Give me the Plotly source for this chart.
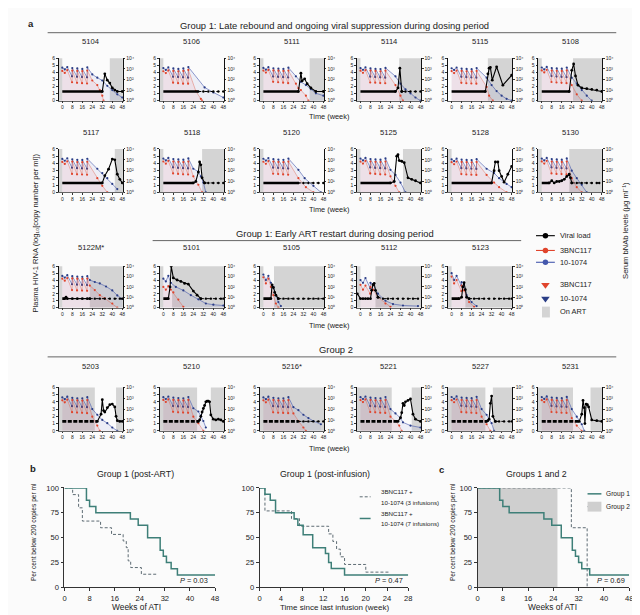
import plotly.graph_objects as go

W, H = 640, 615
FONT = "Liberation Sans, Arial, Helvetica, sans-serif"
TXT = "#222222"
BG = "#fbfbfb"
RED = "#e0442c"
RED_LINE = "rgba(224,68,44,0.7)"
BLUE = "#4458ad"
NAVY = "#2a3d86"
RED_FILL = "rgba(235,120,115,0.11)"
BLUE_FILL = "rgba(120,125,210,0.10)"
ART_GRAY = "#d4d4d4"
TEAL = "#3e7f78"
DASH_COL = "#5d6b73"

# ======================= panel a data =======================
PANEL_IDS = ["5104", "5106", "5111", "5114", "5115", "5108",
             "5117", "5118", "5120", "5125", "5128", "5130",
             "5122M*", "5101", "5105", "5112", "5123",
             "5203", "5210", "5216*", "5221", "5227", "5231"]

INF7 = [0, 2, 4, 8, 12, 16, 20]
INF3 = [0, 2, 4]
INF4 = [0, 2, 4, 8]
PANEL_INFUSIONS = [INF7, INF7, INF7, INF7, INF7, INF7,
                   INF7, INF7, INF7, INF7, INF7, INF7,
                   INF7, INF3, INF3, INF4, INF4,
                   INF7, INF7, INF7, INF7, INF7, INF7]

PANEL_ART = [
    [[-3, 0], [38, 48.5]], [[-3, 0]], [[-3, 0], [37, 48.5]], [[-3, 0], [31, 48.5]], [[29, 48.5]], [[-3, 0], [25, 48.5]],
    [[-3, 0], [42, 48.5]], [[-3, 0], [31, 48.5]], [[-3, 0]], [[-3, 0], [34, 48.5]], [[-3, 0]], [[-3, 0], [22, 48.5]],
    [[-3, 0], [22, 48.5]], [[-3, 0], [7, 48.5]], [[-3, 0], [8.5, 48.5]], [[-3, 0], [12, 48.5]], [[-3, 0], [11, 48.5]],
    [[-3, 26], [43, 48.5]], [[-3, 27], [38, 48.5]], [[-3, 48.5]], [[-3, 25], [41, 48.5]], [[-3, 27], [33, 48.5]], [[-3, 25], [39, 48.5]],
]

VL_WEEKS = [
    [0, 4, 8, 12, 16, 20, 24, 28, 32, 34, 36, 38, 40, 42, 44, 48],
    [0, 4, 8, 12, 16, 20, 24, 28, 32, 36, 40, 44, 48],
    [0, 4, 8, 12, 16, 20, 24, 28, 30, 31, 33, 35, 38, 42, 48],
    [0, 4, 8, 12, 16, 20, 24, 28, 30, 31.5, 33, 36, 40, 44, 48],
    [0, 4, 8, 12, 16, 20, 24, 27, 29, 30, 31, 32.5, 36, 41, 48],
    [0, 4, 8, 12, 16, 20, 22, 24, 25.5, 27, 29, 32, 36, 40, 44, 48],
    [0, 4, 8, 12, 16, 20, 24, 28, 32, 34, 37, 40, 42, 44, 46, 48],
    [0, 4, 8, 12, 16, 20, 24, 26, 28, 29, 30, 31, 33, 36, 40, 44, 48],
    [0, 4, 8, 12, 16, 20, 24, 28, 32, 36, 40, 44, 48],
    [0, 4, 8, 12, 16, 20, 24, 27, 29, 30, 31, 33, 35, 38, 41, 44, 48],
    [0, 4, 8, 12, 16, 20, 24, 28, 32, 34, 35, 37, 38, 40, 42, 45, 48],
    [0, 2, 4, 6, 8, 10, 12, 14, 16, 18, 20, 22, 23, 24, 28, 32, 36, 40, 44, 46],
    [0, 2, 3, 4, 8, 12, 16, 20, 22, 26, 30, 34, 38, 42, 46, 48],
    [0, 2, 4, 5.4, 6.3, 8, 11, 14, 17, 20, 24, 27, 30, 34, 38, 42, 46, 48],
    [0, 2, 4, 6, 7, 8, 9, 10, 12, 16, 20, 24, 28, 32, 36, 40, 44, 48],
    [-2.5, 0, 2, 4, 6, 8, 9, 10, 11, 12, 14, 18, 22, 26, 30, 34, 38, 42, 46],
    [0, 2, 4, 6, 8, 9, 10, 11, 12, 14, 18, 22, 26, 30, 34, 38, 42, 46, 48],
    [0, 4, 8, 12, 16, 20, 24, 28, 31, 32, 33, 34, 36, 38, 40, 42, 43, 44, 46, 48],
    [0, 4, 8, 12, 16, 20, 24, 28, 29, 30, 31, 32, 33, 34, 35, 36, 37, 38, 40, 42, 44, 46, 48],
    [0, 4, 8, 12, 16, 20, 24, 28, 32, 36, 40, 44, 48],
    [0, 4, 8, 12, 16, 20, 24, 28, 30, 32, 33, 34, 35, 36, 38, 40, 42, 44, 48],
    [0, 4, 8, 12, 16, 20, 24, 28, 29, 30, 31, 32, 33, 35, 38, 42, 46, 48],
    [0, 4, 8, 12, 16, 20, 24, 28, 30, 32, 33, 34, 34.5, 35.5, 36.5, 37.5, 40, 44, 48],
]
VL_LOG = [
    [1.3, 1.3, 1.3, 1.3, 1.3, 1.3, 1.3, 1.3, 1.3, 3.8, 2.9, 2.5, 1.8, 1.5, 1.3, 1.3],
    [1.3, 1.3, 1.3, 1.3, 1.3, 1.3, 1.3, 1.3, 1.3, 1.3, 1.3, 1.3, 1.3],
    [1.3, 1.3, 1.3, 1.3, 1.3, 1.3, 1.3, 1.3, 3.9, 2.8, 3.1, 2.4, 1.8, 1.3, 1.3],
    [1.3, 1.3, 1.3, 1.3, 1.3, 1.3, 1.3, 1.3, 1.8, 4.6, 1.3, 1.3, 1.3, 1.3, 1.3],
    [1.3, 1.3, 1.3, 1.3, 1.3, 1.3, 1.3, 1.3, 3.8, 4.6, 4.7, 2.9, 4.8, 2.2, 3.6],
    [1.3, 1.3, 1.3, 1.3, 1.3, 1.3, 1.3, 4.3, 5.2, 3.5, 2.2, 1.8, 1.7, 1.6, 1.5, 1.3],
    [1.3, 1.3, 1.3, 1.3, 1.3, 1.3, 1.3, 1.3, 1.3, 2.3, 3.2, 4.6, 4.5, 2.5, 1.8, 1.3],
    [1.3, 1.3, 1.3, 1.3, 1.3, 1.3, 1.3, 1.5, 2.8, 4.2, 3.8, 2.0, 1.3, 1.3, 1.3, 1.3, 1.3],
    [1.3, 1.3, 1.3, 1.3, 1.3, 1.3, 1.3, 1.3, 1.3, 1.3, 1.3, 1.3, 1.3],
    [1.3, 1.3, 1.3, 1.3, 1.3, 1.3, 1.3, 1.5, 5.0, 5.2, 4.4, 4.3, 4.1, 2.0, 1.8, 1.6, 1.3],
    [1.3, 1.3, 1.3, 1.3, 1.3, 1.3, 1.3, 1.3, 1.3, 3.0, 4.2, 4.2, 3.0, 2.2, 1.4, 2.5, 3.6],
    [1.3, 1.3, 1.3, 1.3, 1.6, 1.3, 1.5, 1.5, 1.6, 1.8, 2.2, 2.5, 2.0, 1.3, 1.3, 1.3, 1.3, 1.3, 1.3, 1.3],
    [1.3, 1.3, 1.5, 1.3, 1.3, 1.3, 1.3, 1.3, 1.3, 1.3, 1.3, 1.3, 1.3, 1.3, 1.3, 1.3],
    [1.3, 1.3, 1.3, 3.0, 6.0, 4.3, 4.0, 3.8, 3.5, 3.4, 2.4, 1.8, 1.3, 1.3, 1.3, 1.3, 1.3, 1.3],
    [1.3, 1.3, 1.3, 1.3, 3.3, 2.9, 2.2, 1.8, 1.3, 1.3, 1.3, 1.3, 1.3, 1.3, 1.3, 1.3, 1.3, 1.3],
    [2.0, 1.3, 1.3, 1.3, 1.3, 1.3, 2.5, 3.3, 3.5, 2.5, 1.5, 1.3, 1.3, 1.3, 1.3, 1.3, 1.3, 1.3, 1.3],
    [1.3, 1.3, 1.3, 1.3, 1.5, 3.0, 3.6, 2.6, 1.5, 1.3, 1.3, 1.3, 1.3, 1.3, 1.3, 1.3, 1.3, 1.3, 1.3],
    [1.3, 1.3, 1.3, 1.3, 1.3, 1.3, 1.3, 1.3, 2.3, 4.3, 2.8, 2.6, 3.2, 3.6, 3.7, 3.3, 2.0, 1.4, 1.3, 1.3],
    [1.3, 1.3, 1.3, 1.3, 1.3, 1.3, 1.3, 1.3, 1.5, 2.0, 2.6, 3.1, 3.5, 4.0, 4.1, 4.1, 4.0, 2.2, 1.6, 1.5, 1.6, 1.5, 1.3],
    [1.3, 1.3, 1.3, 1.3, 1.3, 1.3, 1.3, 1.3, 1.3, 1.3, 1.3, 1.3, 1.3],
    [1.3, 1.3, 1.3, 1.3, 1.3, 1.3, 1.3, 1.3, 1.3, 1.8, 2.5, 3.8, 3.5, 4.0, 4.2, 4.4, 2.3, 1.6, 1.3],
    [1.3, 1.3, 1.3, 1.3, 1.3, 1.3, 1.3, 1.3, 1.4, 1.6, 3.8, 4.8, 2.0, 1.3, 1.3, 1.3, 1.3, 1.3],
    [1.3, 1.3, 1.3, 1.3, 1.3, 1.3, 1.3, 1.3, 1.3, 2.3, 4.2, 3.2, 1.0, 3.7, 3.6, 3.3, 1.5, 1.4, 1.3],
]
VL_DASH_FROM = [100, 28, 100, 33, 100, 100,
                100, 33, 28, 100, 100, 24,
                22, 30, 12, 14, 14,
                100, 100, 28, 100, 35, 100]

DOSE7_WEEKS = [0, 2, 4, 7.8, 8, 11.8, 12, 15.8, 16, 19.8, 20]

R_WEEKS = [
    DOSE7_WEEKS + [24, 28, 30, 32, 33], DOSE7_WEEKS + [26, 30, 31], DOSE7_WEEKS + [26, 28, 30, 34, 36],
    DOSE7_WEEKS + [28, 32, 34], DOSE7_WEEKS + [28, 30, 33], DOSE7_WEEKS + [24, 28, 32],
    DOSE7_WEEKS + [28, 32, 36], DOSE7_WEEKS + [24, 28, 31], DOSE7_WEEKS + [28, 34, 40],
    DOSE7_WEEKS + [24, 28, 31], DOSE7_WEEKS + [28, 34, 38, 44], DOSE7_WEEKS + [24, 28, 32],
    DOSE7_WEEKS + [22, 26, 30, 34, 40, 44],
    [0, 2, 4, 6, 8, 12, 16],
    [0, 2, 4, 6, 8, 10, 12],
    [0, 2, 4, 7.8, 8, 10, 14, 20, 24],
    [0, 2, 4, 7.8, 8, 10, 14, 18],
    DOSE7_WEEKS + [24, 28, 30], DOSE7_WEEKS + [24, 28, 32], DOSE7_WEEKS + [24, 28, 32, 34],
    DOSE7_WEEKS + [24, 28, 31, 33], DOSE7_WEEKS + [24, 28, 31], DOSE7_WEEKS + [24, 28, 32],
]
R_UG = [
    [650, 420, 780, 55, 700, 48, 650, 45, 620, 42, 700, 80, 30, 10, 3, 1],
    [600, 400, 720, 50, 650, 45, 600, 40, 650, 40, 800, 8, 1.5, 1],
    [700, 450, 800, 60, 720, 55, 680, 50, 650, 45, 700, 40, 15, 10, 3, 1],
    [680, 430, 760, 52, 690, 50, 640, 46, 600, 44, 680, 30, 3, 1],
    [620, 400, 700, 48, 650, 44, 600, 42, 580, 40, 650, 20, 3, 1],
    [720, 460, 820, 58, 700, 52, 660, 48, 640, 45, 720, 30, 4, 1],
    [640, 420, 740, 50, 680, 46, 630, 44, 600, 42, 660, 20, 4, 1],
    [700, 440, 800, 56, 700, 50, 650, 46, 620, 44, 700, 30, 5, 1],
    [660, 430, 760, 52, 680, 48, 640, 45, 610, 42, 680, 20, 3, 1],
    [690, 450, 790, 55, 700, 50, 650, 46, 630, 44, 700, 30, 4, 1],
    [600, 390, 700, 48, 640, 44, 600, 42, 580, 40, 640, 40, 8, 3, 1],
    [710, 450, 800, 56, 700, 50, 660, 48, 640, 45, 700, 20, 3, 1],
    [620, 400, 720, 50, 660, 46, 620, 44, 600, 42, 640, 135, 50, 16, 8, 2.5, 1],
    [100, 54, 117, 55, 29, 6, 1.2],
    [860, 215, 630, 100, 16, 2.5, 1],
    [160, 54, 135, 22, 100, 54, 10, 2.5, 1.2],
    [1000, 215, 460, 40, 135, 46, 3.4, 1.2],
    [650, 420, 760, 52, 690, 48, 640, 45, 610, 42, 680, 20, 3, 1],
    [700, 450, 800, 56, 700, 50, 660, 48, 630, 45, 700, 20, 5, 1],
    [640, 420, 740, 50, 680, 46, 630, 44, 600, 42, 660, 40, 8, 2, 1],
    [680, 440, 780, 54, 690, 50, 650, 46, 620, 44, 690, 20, 8, 3, 1],
    [660, 430, 770, 53, 690, 49, 650, 46, 620, 43, 680, 20, 4, 1],
    [670, 440, 780, 54, 700, 50, 650, 46, 620, 44, 690, 15, 3, 1],
]

B_WEEKS = [
    DOSE7_WEEKS + [24, 28, 32, 36, 40, 44, 48], DOSE7_WEEKS + [33, 40, 48], DOSE7_WEEKS + [26, 30, 34, 38, 42, 48],
    DOSE7_WEEKS + [28, 32, 36, 40, 44, 48], DOSE7_WEEKS + [28, 32, 36, 40, 44, 48], DOSE7_WEEKS + [24, 28, 32, 36, 40],
    DOSE7_WEEKS + [28, 32, 36, 40, 44], DOSE7_WEEKS + [24, 28, 30, 32, 34], DOSE7_WEEKS + [28, 33, 40, 46],
    DOSE7_WEEKS + [24, 28, 32, 36], DOSE7_WEEKS + [28, 34, 38, 44, 48], DOSE7_WEEKS + [24, 28, 32, 36],
    DOSE7_WEEKS + [22, 26, 30, 35, 40, 44, 48],
    [0, 2, 4, 6, 10, 16, 22, 28, 34, 40, 48],
    [0, 2, 4, 6, 8, 10, 12, 14],
    [0, 2, 4, 7.8, 8, 10, 14, 20, 26, 34, 46],
    [0, 2, 4, 7.8, 8, 10, 12, 16, 20],
    DOSE7_WEEKS + [24, 28, 32, 36, 40, 44], DOSE7_WEEKS + [24, 28, 30, 32, 34], DOSE7_WEEKS + [24, 28, 32, 36, 40, 46],
    DOSE7_WEEKS + [24, 28, 32, 34, 40, 48], DOSE7_WEEKS + [24, 28, 32, 34], DOSE7_WEEKS + [24, 28, 32, 34],
]
B_UG = [
    [1300, 900, 1500, 200, 1200, 180, 1100, 170, 1000, 160, 1400, 300, 150, 80, 25, 10, 4, 2],
    [1200, 800, 1400, 180, 1100, 170, 1000, 160, 1100, 150, 1500, 18, 6, 2],
    [1250, 850, 1450, 190, 1150, 175, 1050, 165, 1000, 155, 1300, 200, 60, 30, 12, 5, 3],
    [1200, 820, 1400, 185, 1100, 170, 1000, 160, 980, 150, 1250, 200, 40, 12, 5, 2, 1],
    [1150, 800, 1350, 180, 1080, 165, 1000, 155, 950, 150, 1200, 150, 30, 8, 3, 1.5, 1],
    [1350, 900, 1550, 210, 1200, 190, 1100, 175, 1050, 165, 1350, 150, 40, 10, 3, 1],
    [1200, 820, 1400, 185, 1100, 170, 1000, 160, 980, 150, 1250, 150, 60, 20, 6, 2],
    [1300, 880, 1500, 200, 1180, 180, 1080, 170, 1020, 160, 1350, 150, 80, 30, 8, 1],
    [1250, 850, 1450, 190, 1150, 175, 1050, 165, 1000, 155, 1300, 120, 20, 4, 1],
    [1300, 880, 1500, 200, 1180, 180, 1080, 170, 1020, 160, 1350, 120, 40, 8, 1],
    [1100, 750, 1300, 170, 1050, 160, 980, 150, 950, 145, 1150, 150, 60, 20, 6, 3],
    [1300, 880, 1500, 200, 1180, 180, 1080, 170, 1020, 160, 1350, 100, 20, 5, 1],
    [1150, 800, 1350, 180, 1080, 165, 1000, 155, 950, 150, 1100, 460, 300, 215, 110, 46, 15, 7],
    [630, 340, 1170, 250, 100, 46, 16, 6.3, 2.5, 1.9, 1.6],
    [1580, 460, 1170, 250, 100, 16, 3.4, 1.4],
    [460, 250, 730, 73, 250, 185, 22, 4.6, 2.2, 1.6, 1.4],
    [2150, 460, 1170, 135, 290, 185, 16, 3.4, 1.4],
    [1200, 820, 1400, 185, 1100, 170, 1000, 160, 980, 150, 1250, 100, 30, 10, 5, 2, 1],
    [1250, 850, 1450, 190, 1150, 175, 1050, 165, 1000, 155, 1300, 120, 60, 25, 8, 2],
    [1200, 820, 1400, 185, 1100, 170, 1000, 160, 980, 150, 1250, 150, 80, 30, 15, 8, 4],
    [1250, 850, 1450, 190, 1150, 175, 1050, 165, 1000, 155, 1300, 100, 40, 15, 6, 3, 2],
    [1300, 880, 1500, 200, 1180, 180, 1080, 170, 1020, 160, 1350, 100, 30, 5, 1],
    [1280, 870, 1480, 195, 1170, 178, 1070, 168, 1010, 158, 1330, 100, 20, 4, 1],
]

X_TICKS_A = [0, 8, 16, 24, 32, 40, 48]
VL_TICKS = [0, 1, 2, 3, 4, 5, 6]
AB_TICKS = [1, 10, 100, 1000, 10000]
AB_TICKTEXT = ["10⁰", "10¹", "10²", "10³", "10⁴"]

# ======================= panel b / c data =======================
KM_B1_7INF_WEEKS = [0, 7, 8, 10, 21, 23.5, 26.5, 30.5, 31.5, 32.5, 34, 36, 48]
KM_B1_7INF_PCT = [100, 87.5, 81.25, 75, 68.75, 62.5, 50, 37.5, 31.25, 25, 18.75, 12.5, 12.5]
KM_B1_3INF_WEEKS = [0, 2.6, 4.5, 5.7, 11.5, 15, 18.7, 19.7, 20.3, 21.1, 24.5, 29.3]
KM_B1_3INF_PCT = [100, 93.3, 80, 66.7, 60, 53.3, 46.7, 40, 26.7, 20, 13.3, 13.3]

KM_B2_7INF_WEEKS = [0, 1, 2, 3, 6.5, 7.2, 8.2, 10, 12.4, 13, 13.5, 16, 28]
KM_B2_7INF_PCT = [100, 93.75, 87.5, 75, 68.75, 62.5, 53, 40, 34, 25, 19, 12.5, 12.5]
KM_B2_3INF_WEEKS = [0, 1, 6, 7.5, 13, 13.8, 14.5, 15.2, 16, 20, 24.3]
KM_B2_3INF_PCT = [100, 76.9, 69.2, 61.5, 53.8, 46.2, 38.5, 30.8, 23.1, 15.4, 15.4]

KM_C_G1_WEEKS = [0, 7, 8, 10, 21, 23.5, 26.5, 30, 31, 32, 33, 35.5, 48]
KM_C_G1_PCT = [100, 87.5, 81.25, 75, 68.75, 62.5, 50, 37.5, 31.25, 25, 18.75, 12.5, 12.5]
KM_C_G2_WEEKS = [0, 29.7, 34.7]
KM_C_G2_PCT = [100, 60, 0]
C_ART_WEEKS = [0, 25.3]

P_VALUES = ["0.03", "0.47", "0.69"]
X_TICKS_B1 = [0, 8, 16, 24, 32, 40, 48]
X_TICKS_B2 = [0, 4, 8, 12, 16, 20, 24, 28]
Y_TICKS_KM = [0, 25, 50, 75, 100]

# ======================= layout geometry (pixels) =======================
COL_X = [49, 151, 252, 350, 442, 533]
PW = 65
ROW_Y = [(47, 90), (139, 183), (258, 300), (381, 425)]
TITLE_Y = [30, 122, 239, 360]
PANEL_ROW = [0, 0, 0, 0, 0, 0, 1, 1, 1, 1, 1, 1, 2, 2, 2, 2, 2, 3, 3, 3, 3, 3, 3]
PANEL_COL = [0, 1, 2, 3, 4, 5, 0, 1, 2, 3, 4, 5, 0, 1, 2, 3, 4, 0, 1, 2, 3, 4, 5]


def aid(k):
    return "" if k == 1 else str(k)


def xdom(a, b):
    return [a / W, b / W]


def ydom(top, bottom):
    return [1 - bottom / H, 1 - top / H]


fig = go.Figure()
lay = dict(width=W, height=H, margin=dict(l=0, r=0, t=0, b=0),
           paper_bgcolor=BG, plot_bgcolor="rgba(0,0,0,0)",
           showlegend=False, hovermode=False,
           font=dict(family=FONT, color=TXT))
shapes = []
annos = []


def ann(x, y, text, size, weight="normal", **kw):
    d = dict(x=x, y=y, text=text, showarrow=False, xref="x70", yref="y70",
             font=dict(size=size, family=FONT, color=TXT, weight=weight))
    d.update(kw)
    annos.append(d)


small_font = dict(size=5, family=FONT, color="#222")

for i, pid in enumerate(PANEL_IDS):
    k = aid(i + 1)          # base axis: serum bNAb (log, right side)
    kv = str(31 + i)        # overlay axis: viral load (linear, left side) -> drawn on top
    r, c = PANEL_ROW[i], PANEL_COL[i]
    x0 = COL_X[c]
    top, bot = ROW_Y[r]
    lay[f"xaxis{k}"] = dict(domain=xdom(x0, x0 + PW), anchor=f"y{k}", range=[-3, 48.5],
                            tickvals=X_TICKS_A, ticks="outside", ticklen=1.5, tickwidth=0.6,
                            tickcolor="#333", showline=True, linecolor="#666", linewidth=0.6,
                            showgrid=False, zeroline=False, tickfont=small_font, fixedrange=True)
    lay[f"yaxis{k}"] = dict(domain=ydom(top, bot), anchor=f"x{k}", side="right", type="log",
                            range=[0, 4], tickvals=AB_TICKS, ticktext=AB_TICKTEXT,
                            ticks="outside", ticklen=1.5, tickwidth=0.6, tickcolor="#333",
                            showline=True, linecolor="#111", linewidth=0.8, showgrid=False,
                            zeroline=False, tickfont=small_font, fixedrange=True)
    lay[f"yaxis{kv}"] = dict(overlaying=f"y{k}", anchor=f"x{k}", side="left", range=[0, 6],
                             tickvals=VL_TICKS, ticks="outside", ticklen=1.5, tickwidth=0.6,
                             tickcolor="#333", showline=True, linecolor="#111", linewidth=1.0,
                             showgrid=False, zeroline=False, tickfont=small_font, fixedrange=True)
    for a0, a1 in PANEL_ART[i]:
        shapes.append(dict(type="rect", xref=f"x{k}", yref=f"y{k} domain", x0=a0, x1=a1,
                           y0=0, y1=1, fillcolor=ART_GRAY, line_width=0, layer="below"))
    # bNAb levels
    fig.add_trace(go.Scatter(x=B_WEEKS[i], y=B_UG[i], xaxis=f"x{k}", yaxis=f"y{k}",
                             mode="lines+markers", line=dict(color=BLUE, width=0.6),
                             marker=dict(size=2.2, color=NAVY), fill="tozeroy", fillcolor=BLUE_FILL))
    fig.add_trace(go.Scatter(x=R_WEEKS[i], y=R_UG[i], xaxis=f"x{k}", yaxis=f"y{k}",
                             mode="lines+markers", line=dict(color=RED_LINE, width=0.5),
                             marker=dict(size=2.2, color=RED), fill="tozeroy", fillcolor=RED_FILL))
    # viral load: leading run at detection limit drawn thick
    wk, vl = VL_WEEKS[i], VL_LOG[i]
    n_lod = 0
    while n_lod < len(vl) and vl[n_lod] <= 1.3:
        n_lod += 1
    dfrom = VL_DASH_FROM[i]
    lod_dash = "4px,1.5px" if r == 3 else "solid"
    if n_lod > 1:
        lw = [w for w in wk[:n_lod] if w <= dfrom]
        fig.add_trace(go.Scatter(x=lw, y=vl[:len(lw)], xaxis=f"x{k}", yaxis=f"y{kv}",
                                 mode="lines", line=dict(color="black", width=2.6, dash=lod_dash)))
    mid_idx = [j for j in range(max(n_lod - 1, 0), len(wk)) if wk[j] <= dfrom]
    if len(mid_idx) > 1:
        fig.add_trace(go.Scatter(x=[wk[j] for j in mid_idx], y=[vl[j] for j in mid_idx],
                                 xaxis=f"x{k}", yaxis=f"y{kv}", mode="lines+markers",
                                 line=dict(color="black", width=1.1),
                                 marker=dict(size=2.8, color="black")))
    dash_idx = [j for j in range(len(wk)) if wk[j] >= dfrom]
    if len(dash_idx) > 1:
        fig.add_trace(go.Scatter(x=[wk[j] for j in dash_idx], y=[vl[j] for j in dash_idx],
                                 xaxis=f"x{k}", yaxis=f"y{kv}", mode="lines+markers",
                                 line=dict(color="black", width=1.0, dash="dot"),
                                 marker=dict(size=2.4, color="black")))
    # infusion markers above the plot
    inf = PANEL_INFUSIONS[i]
    fig.add_trace(go.Scatter(x=inf, y=[7.25] * len(inf), xaxis=f"x{k}", yaxis=f"y{kv}",
                             mode="markers", cliponaxis=False,
                             marker=dict(symbol="triangle-down", size=3.6, color=NAVY)))
    fig.add_trace(go.Scatter(x=inf, y=[6.75] * len(inf), xaxis=f"x{k}", yaxis=f"y{kv}",
                             mode="markers", cliponaxis=False,
                             marker=dict(symbol="triangle-down", size=3.6, color=RED)))
    ann(x0 + PW / 2, TITLE_Y[r], pid, 7.6)

# row captions and headers
for yy in [106, 200, 318, 443]:
    ann(322, yy, "Time (week)", 7.4)
ann(21, 12, "a", 9.5, weight="bold")
ann(328, 14, "Group 1: Late rebound and ongoing viral suppression during dosing period", 9.4)
ann(328, 225, "Group 1: Early ART restart during dosing period", 9.4)
ann(329, 343, "Group 2", 9.4)
for (xa, xb, yy) in [(38, 612, 21), (144, 516, 232), (38, 612, 350)]:
    shapes.append(dict(type="line", xref="x70", yref="y70", x0=xa, x1=xb, y0=yy, y1=yy,
                       line=dict(color="#555", width=0.9)))
ann(26, 224, "Plasma HIV-1 RNA (log₁₀[copy number per ml])", 7.6, textangle=-90)
ann(622, 222, "Serum bNAb levels (μg ml⁻¹)", 7.6, textangle=-90)

# panel a legend
for yy, col in [(227, "black"), (242, RED), (254, BLUE)]:
    fig.add_trace(go.Scatter(x=[531, 550], y=[yy, yy], xaxis="x70", yaxis="y70", mode="lines",
                             line=dict(color=col, width=1.1)))
    fig.add_trace(go.Scatter(x=[540.5], y=[yy], xaxis="x70", yaxis="y70", mode="markers",
                             marker=dict(color=col, size=5.5)))
for yy, col in [(277, RED), (291, NAVY)]:
    fig.add_trace(go.Scatter(x=[540.5], y=[yy], xaxis="x70", yaxis="y70", mode="markers",
                             marker=dict(color=col, size=7.5, symbol="triangle-down")))
shapes.append(dict(type="rect", xref="x70", yref="y70", x0=537, x1=545, y0=299, y1=310,
                   fillcolor=ART_GRAY, line_width=0))
for yy, t in [(227, "Viral load"), (242, "3BNC117"), (254, "10-1074"),
              (277, "3BNC117"), (291, "10-1074"), (304, "On ART")]:
    ann(553, yy, t, 7.4, xanchor="left")

# ======================= KM panels =======================
KM_TOP, KM_BOT = 483, 584
km_axes = [(60, 55, 207, [0, 48], X_TICKS_B1), (61, 252, 402, [0, 28], X_TICKS_B2),
           (62, 472, 625, [0, 48], X_TICKS_B1)]
km_font = dict(size=7.6, family=FONT, color="#222")
for (k, xa, xb, xr, xt) in km_axes:
    lay[f"xaxis{k}"] = dict(domain=xdom(xa, xb), anchor=f"y{k}", range=xr, tickvals=xt,
                            ticks="outside", ticklen=3, tickwidth=0.8, tickcolor="#333",
                            showline=True, linecolor="#333", linewidth=0.9, showgrid=False,
                            zeroline=False, tickfont=km_font, fixedrange=True)
    lay[f"yaxis{k}"] = dict(domain=ydom(KM_TOP, KM_BOT), anchor=f"x{k}", range=[0, 100],
                            tickvals=Y_TICKS_KM, ticks="outside", ticklen=3, tickwidth=0.8,
                            tickcolor="#333", showline=True, linecolor="#333", linewidth=0.9,
                            showgrid=False, zeroline=False, tickfont=km_font, fixedrange=True)

shapes.append(dict(type="rect", xref="x62", yref="y62", x0=C_ART_WEEKS[0], x1=C_ART_WEEKS[1],
                   y0=0, y1=100, fillcolor="#cfcfcf", line_width=0, layer="below"))


def km(x, y, xa, ya, dashed, color):
    fig.add_trace(go.Scatter(x=x, y=y, xaxis=xa, yaxis=ya, mode="lines", line_shape="hv",
                             cliponaxis=False,
                             line=dict(color=color, width=1.0 if dashed else 1.5,
                                       dash="3px,2px" if dashed else "solid")))


km(KM_B1_3INF_WEEKS, KM_B1_3INF_PCT, "x60", "y60", True, DASH_COL)
km(KM_B1_7INF_WEEKS, KM_B1_7INF_PCT, "x60", "y60", False, TEAL)
km(KM_B2_3INF_WEEKS, KM_B2_3INF_PCT, "x61", "y61", True, DASH_COL)
km(KM_B2_7INF_WEEKS, KM_B2_7INF_PCT, "x61", "y61", False, TEAL)
km(KM_C_G2_WEEKS, KM_C_G2_PCT, "x62", "y62", True, DASH_COL)
km(KM_C_G1_WEEKS, KM_C_G1_PCT, "x62", "y62", False, TEAL)

ann(23, 463, "b", 9.5, weight="bold")
ann(436, 464, "c", 9.5, weight="bold")
ann(127, 469, "Group 1 (post-ART)", 8.8)
ann(318, 469, "Group 1 (post-infusion)", 8.8)
ann(531, 469, "Groups 1 and 2", 8.8)
ann(128, 604, "Weeks of ATI", 8.4)
ann(328, 604, "Time since last infusion (week)", 8.0)
ann(548, 604, "Weeks of ATI", 8.4)
ann(25, 528, "Per cent below 200 copies per ml", 6.6, textangle=-90)
ann(447, 528, "Per cent below 200 copies per ml", 6.6, textangle=-90)
ann(202, 577, "<i>P</i> = " + P_VALUES[0], 7.4, xanchor="right")
ann(399, 577, "<i>P</i> = " + P_VALUES[1], 7.4, xanchor="right")
ann(623, 577, "<i>P</i> = " + P_VALUES[2], 7.4, xanchor="right")

# b2 legend
fig.add_trace(go.Scatter(x=[353, 364], y=[492, 492], xaxis="x70", yaxis="y70", mode="lines",
                         line=dict(color=DASH_COL, width=1.0, dash="3px,2px")))
fig.add_trace(go.Scatter(x=[353, 364], y=[514, 514], xaxis="x70", yaxis="y70", mode="lines",
                         line=dict(color=TEAL, width=1.5)))
for yy, t in [(487, "3BNC117 +"), (498, "10-1074 (3 infusions)"),
              (509, "3BNC117 +"), (519, "10-1074 (7 infusions)")]:
    ann(372, yy, t, 6.2, xanchor="left")
# c legend
shapes.append(dict(type="rect", xref="x70", yref="y70", x0=583, x1=597, y0=497, y1=507,
                   fillcolor="#cfcfcf", line_width=0))
fig.add_trace(go.Scatter(x=[583, 597], y=[489, 489], xaxis="x70", yaxis="y70", mode="lines",
                         line=dict(color=TEAL, width=1.5)))
fig.add_trace(go.Scatter(x=[583, 597], y=[502, 502], xaxis="x70", yaxis="y70", mode="lines",
                         line=dict(color=DASH_COL, width=1.0, dash="3px,2px")))
ann(600, 489, "Group 1", 6.6, xanchor="left")
ann(600, 502, "Group 2", 6.6, xanchor="left")

# pixel overlay axis for captions/legends
lay["xaxis70"] = dict(domain=[0, 1], range=[0, W], visible=False, fixedrange=True, anchor="y70")
lay["yaxis70"] = dict(domain=[0, 1], range=[H, 0], visible=False, fixedrange=True, anchor="x70")
lay["shapes"] = shapes
lay["annotations"] = annos
fig.update_layout(**lay)
fig.write_html("out.html")
